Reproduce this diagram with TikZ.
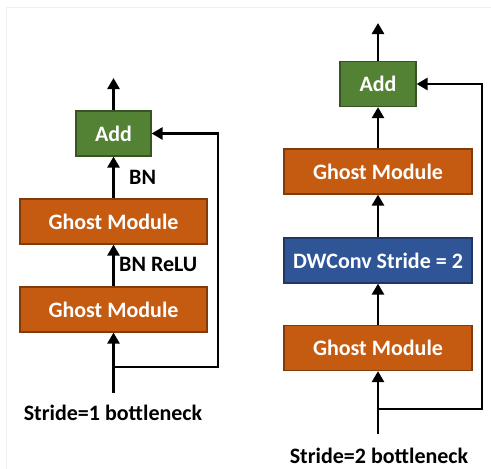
\documentclass[tikz,border=0pt]{standalone}
\usepackage{fontspec}
\setmainfont{Carlito}
\usetikzlibrary{arrows.meta}

\definecolor{addgreen}{HTML}{548235}
\definecolor{ghostorange}{HTML}{C55A11}
\definecolor{convblue}{HTML}{2F5597}

\begin{document}
\begin{tikzpicture}[x=1pt,y=-1pt,
    block/.style={draw=#1!65!black, fill=#1, line width=1.2pt, text=white,
        minimum height=45pt, inner sep=0pt, font=\fontsize{22}{26}\selectfont\bfseries},
    flow/.style={line width=2.6pt, -{Triangle[width=12pt,length=11pt]}},
    lbl/.style={font=\fontsize{22}{26}\selectfont\bfseries, inner sep=0pt}]
        \useasboundingbox (0,0) rectangle (491,469);
        \draw[black!6] (6,469) |- (491,7);

        % stride = 1
        \node[block=addgreen, minimum width=75pt] (addL) at (113.5,133.5) {Add};
        \node[block=ghostorange, minimum width=187pt] (gmupL) at (113.5,221.5) {Ghost Module};
        \node[block=ghostorange, minimum width=187pt] (gmlowL) at (113.5,309.5) {Ghost Module};

        \coordinate (inL) at (113.5,393);
        \coordinate (brL) at (113.5,367);
        \coordinate (skipL) at (218,367);
        \coordinate (outL) at (113.5,78);

        \draw[line width=2.6pt] (inL) -- (brL);
        \draw[flow] (brL) -- (gmlowL.south);
        \draw[flow] (gmlowL.north) -- (gmupL.south);
        \draw[flow] (gmupL.north) -- (addL.south);
        \draw[flow] (addL.north) -- (outL);
        \draw[flow] (brL) -- (skipL) |- (addL.east);

        \node[lbl, anchor=base west] (bnL) at (129,184) {BN};
        \node[lbl, anchor=base west] (bnreluL) at (119,271) {BN ReLU};
        \node[lbl, anchor=base] (titleL) at (113,420) {Stride=1 bottleneck};

        % stride = 2
        \node[block=addgreen, minimum width=76pt] (addR) at (378,84) {Add};
        \node[block=ghostorange, minimum width=188pt] (gmupR) at (378,171.5) {Ghost Module};
        \node[block=convblue, minimum width=188pt] (dwR) at (378,260.5) {DWConv Stride = 2};
        \node[block=ghostorange, minimum width=188pt] (gmlowR) at (378,348) {Ghost Module};

        \coordinate (inR) at (378,434);
        \coordinate (brR) at (378,409);
        \coordinate (skipR) at (482,409);
        \coordinate (outR) at (378,23);

        \draw[line width=2.6pt] (inR) -- (brR);
        \draw[flow] (brR) -- (gmlowR.south);
        \draw[flow] (gmlowR.north) -- (dwR.south);
        \draw[flow] (dwR.north) -- (gmupR.south);
        \draw[flow] (gmupR.north) -- (addR.south);
        \draw[flow] (addR.north) -- (outR);
        \draw[flow] (brR) -- (skipR) |- (addR.east);

        \node[lbl, anchor=base] (titleR) at (379,463) {Stride=2 bottleneck};
\end{tikzpicture}
\end{document}
